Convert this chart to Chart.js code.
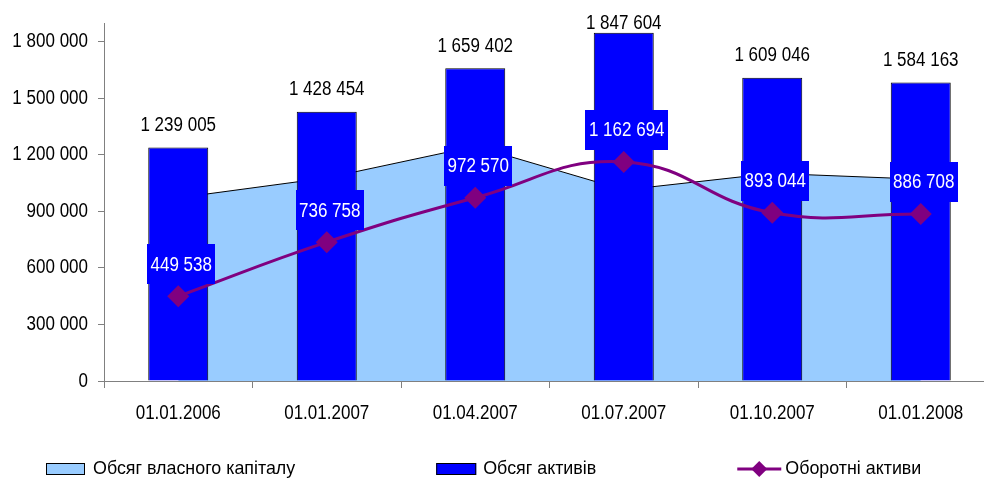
<!DOCTYPE html>
<html>
<head>
<meta charset="utf-8">
<script src="https://cdn.jsdelivr.net/npm/chart.js@4/dist/chart.umd.min.js"></script>
<style>
  html, body { margin: 0; padding: 0; background: #fff; overflow: hidden; }
  #wrap { position: relative; width: 1006px; height: 478px; }
</style>
</head>
<body>
<div id="wrap"><canvas id="c" width="1006" height="478"></canvas></div>
<script>
// Reporting dates
const categories = ['01.01.2006', '01.01.2007', '01.04.2007', '01.07.2007', '01.10.2007', '01.01.2008'];
// Equity volume (area)
const equity = [972000, 1078000, 1246000, 1014000, 1102000, 1071000];
// Total assets volume (columns)
const assets = [1239005, 1428454, 1659402, 1847604, 1609046, 1584163];
// Current assets (smoothed line)
const currentAssets = [449538, 736758, 972570, 1162694, 893044, 886708];
// Value axis ticks
const yTicks = [0, 300000, 600000, 900000, 1200000, 1500000, 1800000];
const yMax = 1900000;
const seriesNames = ['Обсяг власного капіталу', 'Обсяг активів', 'Оборотні активи'];

const FONT = "'Liberation Sans', Arial, sans-serif";
const fmt = v => String(v).replace(/\B(?=(\d{3})+(?!\d))/g, ' ');

const COL_AREA = '#99CCFF';
const COL_BAR = '#0000FF';
const COL_LINE = '#800080';

const NARROW = 0.85;   // horizontal squeeze for a narrow typeface look
const LEGEND_NARROW = 0.94;

const canvas = document.getElementById('c');
const g = canvas.getContext('2d');
const nativeFillText = g.fillText.bind(g);
g.textScaleX = NARROW;
g.fillText = function (text, x, y) {
  const s = this.textScaleX;
  this.save();
  this.translate(x, y);
  this.scale(s, 1);
  nativeFillText(text, 0, 0);
  this.restore();
};

Chart.defaults.color = '#000';
Chart.defaults.font.family = FONT;
Chart.defaults.font.size = 20;

// Value labels: black above columns, white on blue boxes above line points
const valueLabels = {
  id: 'valueLabels',
  afterDatasetsDraw(chart) {
    const ctx = chart.ctx;
    ctx.save();
    ctx.font = '20px ' + FONT;
    ctx.textAlign = 'center';
    ctx.textBaseline = 'middle';
    chart.getDatasetMeta(1).data.forEach((bar, i) => {
      ctx.fillStyle = '#000';
      ctx.fillText(fmt(assets[i]), bar.x, Math.max(bar.y - 22, 23));
    });
    chart.getDatasetMeta(0).data.forEach((pt, i) => {
      const text = fmt(currentAssets[i]);
      const w = Math.round(ctx.measureText(text).width * NARROW + 7);
      const h = 40;
      const cx = pt.x + 3, cy = pt.y - 32;
      ctx.fillStyle = COL_BAR;
      ctx.fillRect(Math.round(cx - w / 2), Math.round(cy - h / 2), w, h);
      ctx.fillStyle = '#fff';
      ctx.fillText(text, cx, cy + 1);
    });
    ctx.restore();
  }
};

// Legend row along the bottom edge
const bottomLegend = {
  id: 'bottomLegend',
  afterDraw(chart) {
    const ctx = chart.ctx;
    ctx.save();
    ctx.textScaleX = LEGEND_NARROW;
    ctx.font = '19px ' + FONT;
    ctx.textBaseline = 'middle';
    ctx.textAlign = 'left';
    const tw = t => ctx.measureText(t).width * LEGEND_NARROW;
    const cy = 469;
    const gap = 141;
    let x = 46;
    // area swatch
    ctx.fillStyle = COL_AREA;
    ctx.fillRect(x, cy - 6, 39, 12);
    ctx.strokeStyle = '#000'; ctx.lineWidth = 1;
    ctx.strokeRect(x + 0.5, cy - 5.5, 38, 11);
    x += 47;
    ctx.fillStyle = '#000';
    ctx.fillText(seriesNames[0], x, cy);
    x += tw(seriesNames[0]) + gap;
    // column swatch
    ctx.fillStyle = COL_BAR;
    ctx.fillRect(x, cy - 6, 40, 12);
    ctx.strokeRect(x + 0.5, cy - 5.5, 39, 11);
    x += 47;
    ctx.fillStyle = '#000';
    ctx.fillText(seriesNames[1], x, cy);
    x += tw(seriesNames[1]) + gap;
    // line swatch
    ctx.strokeStyle = COL_LINE; ctx.lineWidth = 3;
    ctx.beginPath(); ctx.moveTo(x, cy); ctx.lineTo(x + 44, cy); ctx.stroke();
    ctx.fillStyle = COL_LINE;
    ctx.beginPath();
    ctx.moveTo(x + 22, cy - 8); ctx.lineTo(x + 30, cy); ctx.lineTo(x + 22, cy + 8); ctx.lineTo(x + 14, cy);
    ctx.closePath(); ctx.fill();
    x += 48;
    ctx.fillStyle = '#000';
    ctx.fillText(seriesNames[2], x, cy);
    ctx.restore();
    ctx.textScaleX = NARROW;
  }
};

new Chart(canvas, {
  type: 'bar',
  data: {
    labels: categories,
    datasets: [
      {
        type: 'line',
        label: seriesNames[2],
        data: currentAssets,
        borderColor: COL_LINE,
        backgroundColor: COL_LINE,
        borderWidth: 3,
        tension: 0.45,
        pointStyle: 'rectRot',
        pointRadius: 11,
        pointBorderWidth: 0,
        fill: false,
        order: 0
      },
      {
        type: 'bar',
        label: seriesNames[1],
        data: assets,
        backgroundColor: COL_BAR,
        borderColor: '#000',
        borderWidth: 1,
        barPercentage: 0.404,
        categoryPercentage: 1.0,
        order: 1
      },
      {
        type: 'line',
        label: seriesNames[0],
        data: equity,
        backgroundColor: COL_AREA,
        borderColor: '#000',
        borderWidth: 1,
        tension: 0,
        pointRadius: 0,
        fill: 'origin',
        order: 2
      }
    ]
  },
  options: {
    responsive: false,
    devicePixelRatio: 1,
    animation: false,
    layout: { padding: { top: 23, right: 5, left: 0, bottom: 0 } },
    plugins: {
      legend: { display: false },
      tooltip: { enabled: false }
    },
    scales: {
      x: {
        offset: true,
        grid: { display: true, drawOnChartArea: false, drawTicks: true, tickLength: 7, color: '#808080', offset: true },
        border: { display: true, color: '#808080', width: 1 },
        ticks: { padding: 13, maxRotation: 0, autoSkip: false, color: '#000', font: { size: 20, family: FONT } },
        afterFit(scale) { scale.height = 97; }
      },
      y: {
        min: 0,
        max: yMax,
        grid: { display: true, drawOnChartArea: false, drawTicks: true, tickLength: 6, color: '#808080' },
        border: { display: true, color: '#808080', width: 1 },
        ticks: { padding: 10, color: '#000', font: { size: 20, family: FONT }, callback: v => fmt(v) },
        afterBuildTicks(scale) { scale.ticks = yTicks.map(v => ({ value: v })); },
        afterFit(scale) { scale.width = 104; }
      }
    }
  },
  plugins: [valueLabels, bottomLegend]
});
</script>
</body>
</html>
